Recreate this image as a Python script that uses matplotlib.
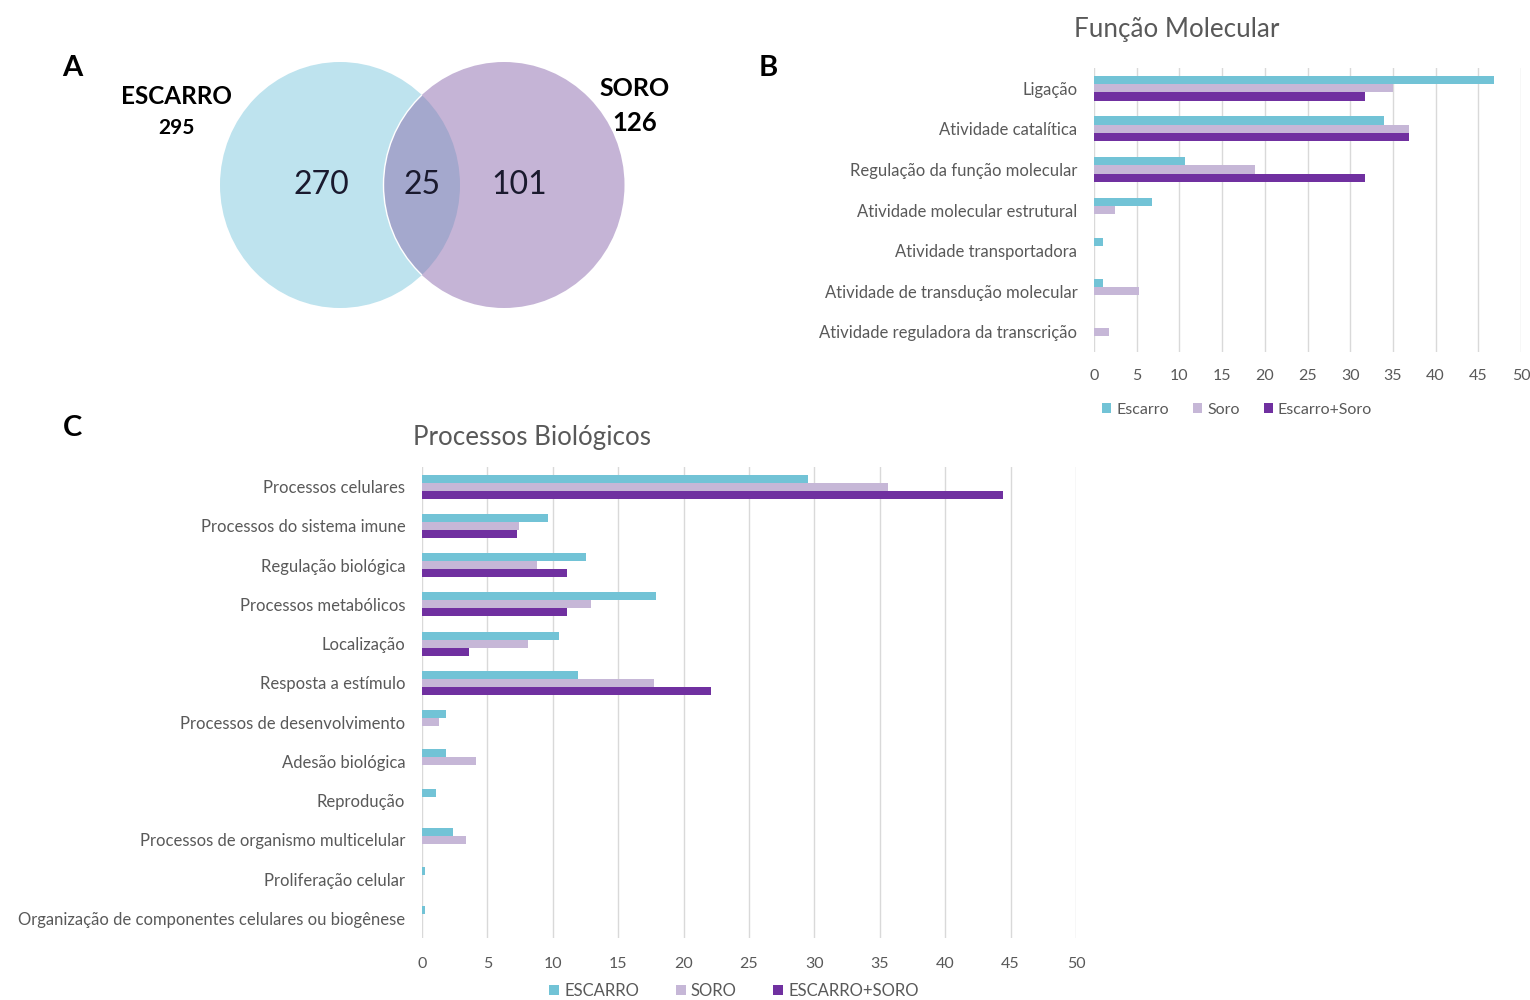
import matplotlib
matplotlib.use("Agg")
import matplotlib.pyplot as plt
from matplotlib.patches import Ellipse
import numpy as np

# Venn (A)
venn_names = ["ESCARRO", "SORO"]
venn_totals = [295, 126]
venn_counts = [270, 25, 101]  # only escarro, both, only soro

series_names_b = ["Escarro", "Soro", "Escarro+Soro"]
series_names_c = ["ESCARRO", "SORO", "ESCARRO+SORO"]

# Função Molecular (B)
mf_categories = [
    "Ligação",
    "Atividade catalítica",
    "Regulação da função molecular",
    "Atividade molecular estrutural",
    "Atividade transportadora",
    "Atividade de transdução molecular",
    "Atividade reguladora da transcrição",
]
mf_escarro = [46.8, 34.0, 10.7, 6.8, 1.1, 1.1, 0.0]
mf_soro = [35.0, 36.9, 18.8, 2.5, 0.0, 5.3, 1.75]
mf_ambos = [31.7, 36.9, 31.7, 0.0, 0.0, 0.0, 0.0]

# Processos Biológicos (C)
bp_categories = [
    "Processos celulares",
    "Processos do sistema imune",
    "Regulação biológica",
    "Processos metabólicos",
    "Localização",
    "Resposta a estímulo",
    "Processos de desenvolvimento",
    "Adesão biológica",
    "Reprodução",
    "Processos de organismo multicelular",
    "Proliferação celular",
    "Organização de componentes celulares ou biogênese",
]
bp_escarro = [29.5, 9.6, 12.5, 17.9, 10.5, 11.9, 1.8, 1.8, 1.1, 2.4, 0.2, 0.2]
bp_soro = [35.6, 7.4, 8.8, 12.9, 8.1, 17.7, 1.3, 4.1, 0.0, 3.4, 0.0, 0.0]
bp_ambos = [44.4, 7.3, 11.1, 11.1, 3.6, 22.1, 0.0, 0.0, 0.0, 0.0, 0.0, 0.0]

colors = ["#72c3d6", "#c6b7d7", "#7030a0"]
text_color = "#595959"
grid_color = "#d9d9d9"

plt.rcParams["font.family"] = ["Lato", "DejaVu Sans"]

W, H = 1530, 1000
fig = plt.figure(figsize=(15.3, 10), dpi=100)


def px_rect(x0, y0, x1, y1):
    return [x0 / W, 1 - y1 / H, (x1 - x0) / W, (y1 - y0) / H]


# ------------------ A: Venn ------------------
axv = fig.add_axes(px_rect(0, 30, 700, 330))
axv.set_xlim(0, 700)
axv.set_ylim(330, 30)
axv.axis("off")

left = Ellipse((340, 185), 240, 246, facecolor="#bee3ee", edgecolor="none", zorder=1)
right = Ellipse((504, 185), 241, 246, facecolor="#c5b4d6", edgecolor="none", zorder=2)
axv.add_patch(left)
axv.add_patch(right)
overlap = Ellipse((504, 185), 241, 246, facecolor="#a4a8cd", edgecolor="none", zorder=3)
axv.add_patch(overlap)
overlap.set_clip_path(left)
edge = Ellipse((504, 185), 241, 246, facecolor="none", edgecolor="white", lw=1.0, zorder=4)
axv.add_patch(edge)
edge.set_clip_path(left)

for x, v in zip([321, 422, 519], venn_counts):
    axv.text(x, 185, str(v), ha="center", va="center", fontsize=23, color="#1a1a2e", zorder=5)

axv.text(176, 97, venn_names[0], ha="center", va="center", fontsize=17.5, fontweight="bold")
axv.text(176, 128, str(venn_totals[0]), ha="center", va="center", fontsize=15, fontweight="bold")
axv.text(635, 88, venn_names[1], ha="center", va="center", fontsize=18, fontweight="bold")
axv.text(635, 123, str(venn_totals[1]), ha="center", va="center", fontsize=18.5, fontweight="bold")

fig.text(72 / W, 1 - 68 / H, "A", ha="center", va="center", fontsize=21, fontweight="bold")
fig.text(768 / W, 1 - 68 / H, "B", ha="center", va="center", fontsize=21, fontweight="bold")
fig.text(72 / W, 1 - 428 / H, "C", ha="center", va="center", fontsize=21, fontweight="bold")


def bar_panel(ax, cats, series, names, title, title_xy, legend_xy, xpad, legfs, colsp):
    n = len(cats)
    y = np.arange(n)
    h = 0.205
    for k, (vals, col, nm) in enumerate(zip(series, colors, names)):
        ax.barh(y + (k - 1) * h, vals, height=h, color=col, label=nm, zorder=2)
    ax.set_ylim(n - 0.5, -0.5)
    ax.set_xlim(0, 50)
    ax.set_xticks(np.arange(0, 51, 5))
    ax.set_yticks(y)
    ax.set_yticklabels(cats)
    ax.grid(axis="x", color=grid_color, linewidth=1.0, zorder=0)
    ax.set_axisbelow(True)
    for s in ax.spines.values():
        s.set_visible(False)
    ax.tick_params(axis="y", length=0, pad=12, labelsize=12, labelcolor=text_color)
    ax.tick_params(axis="x", length=0, pad=xpad, labelsize=11.5, labelcolor=text_color)
    fig.text(title_xy[0] / W, 1 - title_xy[1] / H, title, ha="center", va="center",
             fontsize=18.7, color=text_color)
    fig.legend(*ax.get_legend_handles_labels(), loc="center",
               bbox_to_anchor=(legend_xy[0] / W, 1 - legend_xy[1] / H),
               ncol=3, frameon=False, fontsize=legfs, labelcolor=text_color,
               handlelength=0.6, handleheight=0.6, handletextpad=0.3,
               columnspacing=colsp)


axb = fig.add_axes(px_rect(1094, 68, 1521, 352))
bar_panel(axb, mf_categories, [mf_escarro, mf_soro, mf_ambos], series_names_b,
          "Função Molecular", (1177, 29), (1237, 410), 12, 11.5, 1.5)

axc = fig.add_axes(px_rect(422, 467, 1076, 938))
bar_panel(axc, bp_categories, [bp_escarro, bp_soro, bp_ambos], series_names_c,
          "Processos Biológicos", (532, 438), (734, 991), 14, 12, 2.2)

fig.savefig("out.png", dpi=100, facecolor="white")
